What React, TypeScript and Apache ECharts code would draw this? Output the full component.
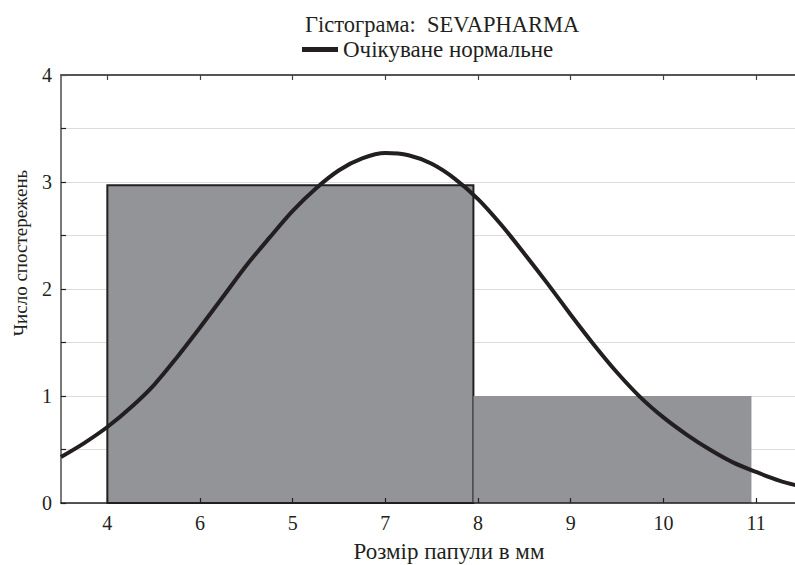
import React, { useEffect, useRef } from "react";
import * as echarts from "echarts";

const titleText = "Гістограма:  SEVAPHARMA";
const legendName = "Очікуване нормальне";
const xAxisTitle = "Розмір папули в мм";
const yAxisTitle = "Число спостережень";

// Histogram bins (start, end, count)
const binStart = [4, 7.95];
const binEnd = [7.95, 10.95];
const binCount = [2.97, 1];

// Expected normal curve
const curveX = [
  3.5, 3.75, 4, 4.25, 4.5, 4.75, 5, 5.25, 5.5, 5.75, 6, 6.25, 6.5, 6.75, 7, 7.25, 7.5,
  7.75, 8, 8.25, 8.5, 8.75, 9, 9.25, 9.5, 9.75, 10, 10.25, 10.5, 10.75, 11, 11.25, 11.5,
];
const curveY = [
  0.43, 0.56, 0.71, 0.89, 1.1, 1.36, 1.64, 1.93, 2.22, 2.48, 2.73, 2.94, 3.11, 3.22, 3.27, 3.25, 3.17,
  3.03, 2.84, 2.6, 2.33, 2.05, 1.76, 1.48, 1.22, 0.99, 0.8, 0.64, 0.5, 0.38, 0.29, 0.21, 0.15,
];

// X tick positions and their labels as printed
const xTickValues = [4, 5, 6, 7, 8, 9, 10, 11];
const xTickLabels = ["4", "6", "5", "7", "8", "9", "10", "11"];

const FONT = "'Liberation Serif', 'Times New Roman', serif";
const INK = "#231f20";

export default function App() {
  const ref = useRef<HTMLDivElement>(null);
  useEffect(() => {
    if (!ref.current) return;
    const chart = echarts.init(ref.current, null, { renderer: "svg" });
    const barData = binStart.map((s, i) => [s, binEnd[i], binCount[i]]);
    const lineData = curveX.map((x, i) => [x, curveY[i]]);
    chart.setOption({
      animation: false,
      backgroundColor: "#ffffff",
      title: {
        text: titleText,
        left: 300,
        top: 8,
        textStyle: { fontFamily: FONT, fontSize: 22.5, fontWeight: "normal", color: INK },
      },
      legend: {
        left: 297,
        top: 33,
        itemWidth: 36,
        itemHeight: 5,
        icon: "rect",
        data: [{ name: legendName, icon: "rect", itemStyle: { color: INK } }],
        textStyle: { fontFamily: FONT, fontSize: 23, color: INK },
      },
      grid: { left: 61, top: 75, bottom: 62, right: 0, containLabel: false },
      xAxis: [
        {
          type: "value",
          min: 3.5,
          max: 11.42,
          position: "bottom",
          z: 5,
          axisLine: { show: true, lineStyle: { color: INK, width: 1.5 } },
          axisTick: { show: true, inside: true, length: 5, lineStyle: { color: INK, width: 1.2 }, customValues: xTickValues },
          axisLabel: {
            show: true,
            customValues: xTickValues,
            margin: 10,
            fontFamily: FONT,
            fontSize: 20,
            color: INK,
            formatter: (v: number) => {
              const i = xTickValues.indexOf(Math.round(v * 100) / 100);
              return i >= 0 ? xTickLabels[i] : "";
            },
          },
          splitLine: { show: false },
        },
        {
          type: "value",
          min: 3.5,
          max: 11.42,
          position: "top",
          z: 5,
          axisLine: { show: true, lineStyle: { color: "#555555", width: 2 } },
          axisTick: { show: true, inside: true, length: 5, lineStyle: { color: "#444444", width: 1.2 }, customValues: xTickValues },
          axisLabel: { show: false },
          splitLine: { show: false },
        },
      ],
      yAxis: {
        type: "value",
        min: 0,
        max: 4,
        interval: 0.5,
        axisLine: { show: true, lineStyle: { color: "#4d4d4d", width: 1.5 } },
        axisTick: { show: true, inside: true, length: 5, lineStyle: { color: INK, width: 1.2 } },
        axisLabel: {
          margin: 9,
          fontFamily: FONT,
          fontSize: 20,
          color: INK,
          formatter: (v: number) => (Math.abs(v - Math.round(v)) < 1e-6 ? String(Math.round(v)) : ""),
        },
        splitLine: { show: true, lineStyle: { color: "#dcdcdc", width: 1.2 } },
      },
      graphic: [
        {
          type: "text",
          x: 20,
          y: 253,
          rotation: Math.PI / 2,
          style: {
            text: yAxisTitle,
            fontFamily: FONT,
            fontSize: 19,
            fill: INK,
            textAlign: "center",
            textVerticalAlign: "middle",
          },
        },
        {
          type: "text",
          x: 449,
          y: 551,
          style: {
            text: xAxisTitle,
            fontFamily: FONT,
            fontSize: 23,
            fill: INK,
            textAlign: "center",
            textVerticalAlign: "middle",
          },
        },
      ],
      series: [
        {
          type: "custom",
          name: "Гістограма",
          xAxisIndex: 0,
          yAxisIndex: 0,
          encode: { x: [0, 1], y: 2 },
          data: barData,
          z: 2,
          renderItem: (params: any, api: any) => {
            const p0 = api.coord([api.value(0), api.value(2)]);
            const p1 = api.coord([api.value(1), 0]);
            const first = params.dataIndex === 0;
            return {
              type: "rect",
              shape: { x: p0[0], y: p0[1], width: p1[0] - p0[0], height: p1[1] - p0[1] },
              style: {
                fill: "#939498",
                stroke: first ? INK : null,
                lineWidth: first ? 2 : 0,
              },
            };
          },
        },
        {
          type: "line",
          name: legendName,
          xAxisIndex: 0,
          yAxisIndex: 0,
          data: lineData,
          smooth: 0.3,
          symbol: "none",
          z: 3,
          lineStyle: { color: INK, width: 4 },
          itemStyle: { color: INK },
        },
      ],
    });
    return () => chart.dispose();
  }, []);
  return <div ref={ref} style={{ width: 795, height: 565, position: "absolute", left: 0, top: 0 }} />;
}
